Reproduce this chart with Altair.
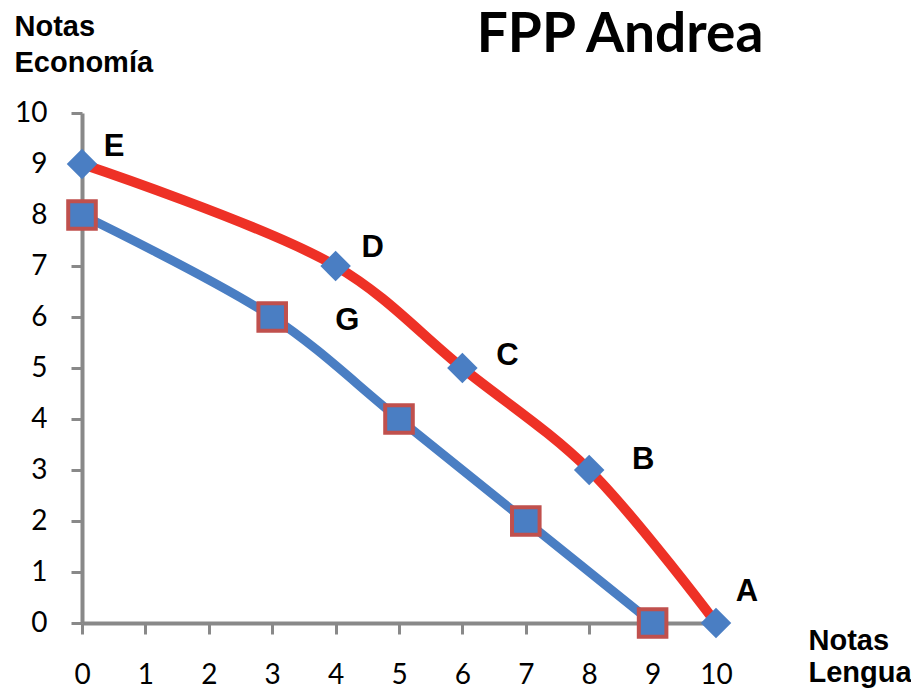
import altair as alt
import pandas as pd

# Curve FPP (red)
fpp_x = [0, 4, 6, 8, 10]
fpp_y = [9, 7, 5, 3, 0]
fpp_lab = ["E", "D", "C", "B", "A"]

# Inner curve (blue)
in_x = [0, 3, 5, 7, 9]
in_y = [8, 6, 4, 2, 0]
in_lab = ["", "G", "", "", ""]

ticks = list(range(0, 11))

fpp = pd.DataFrame({"x": fpp_x, "y": fpp_y, "lab": fpp_lab})
inner = pd.DataFrame({"x": in_x, "y": in_y, "lab": in_lab})

RED = "#EE3126"
BLUE = "#4A7EC3"
SQ_STROKE = "#C0504D"
AX = "#898989"

xs = alt.Scale(domain=[0, 10], nice=False)
ys = alt.Scale(domain=[0, 10], nice=False)

x_enc = alt.X("x:Q", scale=xs, axis=alt.Axis(
    values=ticks, format="d", labelOverlap=False, labelFlush=False,
    title=["Notas", "Lengua"], titleAngle=0, titleAlign="left",
    titleBaseline="top", titleX=726, titleY=3, titleLineHeight=32,
    labelPadding=27, grid=False))
y_enc = alt.Y("y:Q", scale=ys, axis=alt.Axis(
    values=ticks, format="d", labelOverlap=False, labelFlush=False,
    title=["Notas", "Economía"], titleAngle=0, titleAlign="left",
    titleBaseline="top", titleX=-68, titleY=-101, titleLineHeight=36,
    labelPadding=24, grid=False))

blue_line = alt.Chart(inner).mark_line(
    color=BLUE, strokeWidth=9, interpolate="catmull-rom", strokeCap="round"
).encode(x=x_enc, y=y_enc)

red_line = alt.Chart(fpp).mark_line(
    color=RED, strokeWidth=10, interpolate="catmull-rom", strokeCap="round"
).encode(x="x:Q", y="y:Q")

squares = alt.Chart(inner).mark_point(
    shape="square", size=760, filled=True, fill=BLUE, stroke=SQ_STROKE,
    strokeWidth=4, opacity=1
).encode(x="x:Q", y="y:Q")

diamonds = alt.Chart(fpp).mark_point(
    shape="diamond", size=930, filled=True, fill=BLUE, opacity=1, strokeWidth=0
).encode(x="x:Q", y="y:Q")

# label offsets (pixels) per point label - styling only
offsets = {"E": (32, -17), "D": (37, -18), "C": (45, -12), "B": (54, -10),
           "A": (31, -31), "G": (75, 4)}

label_layers = []
for lab, (dx, dy) in offsets.items():
    src = fpp if lab in fpp_lab else inner
    label_layers.append(
        alt.Chart(src).transform_filter(alt.datum.lab == lab).mark_text(
            font="Liberation Sans", fontWeight="bold", fontSize=31,
            color="black", dx=dx, dy=dy, align="center", baseline="middle"
        ).encode(x="x:Q", y="y:Q", text="lab:N")
    )

title = alt.Chart(pd.DataFrame({"t": ["FPP Andrea"]})).mark_text(
    font="Lato", fontWeight="bold", fontSize=55, color="black",
    align="center", baseline="middle"
).encode(x=alt.value(538), y=alt.value(-78), text="t:N")

chart = alt.layer(blue_line, red_line, squares, diamonds, *label_layers, title).properties(
    width=634, height=510,
    autosize=alt.AutoSizeParams(type="none"),
    padding={"left": 74, "top": 105, "right": 195, "bottom": 69},
).configure_view(stroke=None).configure_axis(
    domainColor=AX, domainWidth=4, tickColor=AX, tickWidth=3, tickSize=11,
    labelFont="Lato", labelFontSize=28, labelColor="black",
    titleFont="Liberation Sans", titleFontWeight="bold", titleFontSize=29,
    titleColor="black"
)

chart.save("out.html", embed_options={"renderer": "svg", "actions": False})
